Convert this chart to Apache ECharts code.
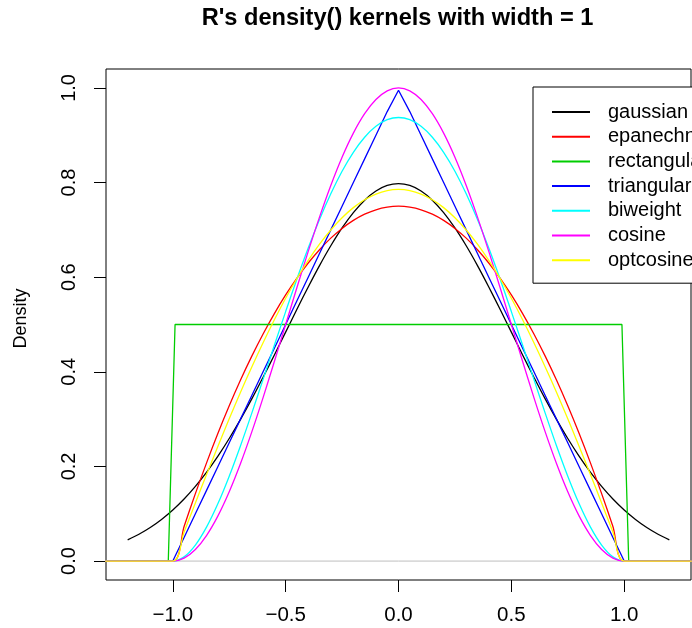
<!DOCTYPE html>
<html>
<head>
<meta charset="utf-8">
<script src="https://cdn.jsdelivr.net/npm/echarts@6/dist/echarts.min.js"></script>
<style>
html,body{margin:0;padding:0;background:#fff;}
#chart{width:692px;height:628px;}
</style>
</head>
<body>
<div id="chart"></div>
<script>
// ---- data ----
const kernelNames = ["gaussian", "epanechnikov", "rectangular", "triangular", "biweight", "cosine", "optcosine"];
const kernelColors = ["#000000", "#FF0000", "#00CD00", "#0000FF", "#00FFFF", "#FF00FF", "#FFFF00"];
const titleText = "R's density() kernels with width = 1";
const yLabel = "Density";

const xTicks = [-1, -0.5, 0, 0.5, 1];
const yTicks = [0, 0.2, 0.4, 0.6, 0.8, 1];

const xGauss = [-1.2,-1.15,-1.1,-1.05,-1,-0.95,-0.9,-0.85,-0.8,-0.75,-0.7,-0.65,-0.6,-0.55,-0.5,-0.45,-0.4,-0.35,-0.3,-0.25,-0.2,-0.15,-0.1,-0.05,0,
  0.05,0.1,0.15,0.2,0.25,0.3,0.35,0.4,0.45,0.5,0.55,0.6,0.65,0.7,0.75,0.8,0.85,0.9,0.95,1,1.05,1.1,1.15,1.2];
const yGauss = [0.0448,0.0567,0.0709,0.088,0.108,0.1312,0.1579,0.1881,0.2218,0.259,0.2995,0.3427,0.3884,0.4357,0.4839,0.5322,0.5794,0.6245,0.6664,0.7041,0.7365,0.7628,0.7821,0.7939,0.7979,
  0.7939,0.7821,0.7628,0.7365,0.7041,0.6664,0.6245,0.5794,0.5322,0.4839,0.4357,0.3884,0.3427,0.2995,0.259,0.2218,0.1881,0.1579,0.1312,0.108,0.088,0.0709,0.0567,0.0448];

const xKernel = [-1.3,-1,-0.95,-0.9,-0.85,-0.8,-0.75,-0.7,-0.65,-0.6,-0.55,-0.5,-0.45,-0.4,-0.35,-0.3,-0.25,-0.2,-0.15,-0.1,-0.05,0,
  0.05,0.1,0.15,0.2,0.25,0.3,0.35,0.4,0.45,0.5,0.55,0.6,0.65,0.7,0.75,0.8,0.85,0.9,0.95,1,1.3];
const yEpan = [0,0,0.0731,0.1425,0.2081,0.27,0.3281,0.3825,0.4331,0.48,0.5231,0.5625,0.5981,0.63,0.6581,0.6825,0.7031,0.72,0.7331,0.7425,0.7481,0.75,
  0.7481,0.7425,0.7331,0.72,0.7031,0.6825,0.6581,0.63,0.5981,0.5625,0.5231,0.48,0.4331,0.3825,0.3281,0.27,0.2081,0.1425,0.0731,0,0];
const yTri = [0,0,0.05,0.1,0.15,0.2,0.25,0.3,0.35,0.4,0.45,0.5,0.55,0.6,0.65,0.7,0.75,0.8,0.85,0.9,0.95,0.995,
  0.95,0.9,0.85,0.8,0.75,0.7,0.65,0.6,0.55,0.5,0.45,0.4,0.35,0.3,0.25,0.2,0.15,0.1,0.05,0,0];
const yBiw = [0,0,0.0089,0.0338,0.0722,0.1215,0.1794,0.2438,0.3127,0.384,0.4561,0.5273,0.5963,0.6615,0.7219,0.7763,0.824,0.864,0.8958,0.9188,0.9328,0.9375,
  0.9328,0.9188,0.8958,0.864,0.824,0.7763,0.7219,0.6615,0.5963,0.5273,0.4561,0.384,0.3127,0.2438,0.1794,0.1215,0.0722,0.0338,0.0089,0,0];
const yCos = [0,0,0.0062,0.0245,0.0545,0.0955,0.1464,0.2061,0.273,0.3455,0.4218,0.5,0.5782,0.6545,0.727,0.7939,0.8536,0.9045,0.9455,0.9755,0.9938,1,
  0.9938,0.9755,0.9455,0.9045,0.8536,0.7939,0.727,0.6545,0.5782,0.5,0.4218,0.3455,0.273,0.2061,0.1464,0.0955,0.0545,0.0245,0.0062,0,0];
const yOptcos = [0,0,0.0616,0.1229,0.1834,0.2427,0.3006,0.3566,0.4104,0.4616,0.5101,0.5554,0.5972,0.6354,0.6697,0.6998,0.7256,0.747,0.7637,0.7757,0.783,0.7854,
  0.783,0.7757,0.7637,0.747,0.7256,0.6998,0.6697,0.6354,0.5972,0.5554,0.5101,0.4616,0.4104,0.3566,0.3006,0.2427,0.1834,0.1229,0.0616,0,0];

const xRect = [-1.3,-1.02,-0.99,0.99,1.02,1.3];
const yRect = [0,0,0.5,0.5,0,0];

const xZero = [-1.4, 1.4];
const yZero = [0, 0];

// ---- chart ----
function pairs(xs, ys){ return xs.map((x,i)=>[x, ys[i]]); }
function fmt(v){ const s = Math.abs(v).toFixed(1); return v < 0 ? "\u2212" + s : s; }

const FONT = "Liberation Sans, Arial, Helvetica, sans-serif";

function lineSeries(name, color, xs, ys, smooth){
  return {
    name: name, type: 'line', data: pairs(xs, ys),
    showSymbol: false, symbol: 'none', smooth: smooth, clip: true,
    color: color,
    lineStyle: {color: color, width: 1.3},
    itemStyle: {color: color},
    emphasis: {disabled: true}, silent: true
  };
}

const series = [
  lineSeries(kernelNames[0], kernelColors[0], xGauss, yGauss, 0.3),
  Object.assign(lineSeries("zero", "#BEBEBE", xZero, yZero, false), {lineStyle:{color:"#BEBEBE", width:1}}),
  lineSeries(kernelNames[1], kernelColors[1], xKernel, yEpan, 0.3),
  lineSeries(kernelNames[2], kernelColors[2], xRect, yRect, false),
  lineSeries(kernelNames[3], kernelColors[3], xKernel, yTri, false),
  lineSeries(kernelNames[4], kernelColors[4], xKernel, yBiw, 0.3),
  lineSeries(kernelNames[5], kernelColors[5], xKernel, yCos, 0.3),
  lineSeries(kernelNames[6], kernelColors[6], xKernel, yOptcos, 0.3)
];

const chart = echarts.init(document.getElementById('chart'), null, {renderer: 'canvas'});
chart.setOption({
  animation: false,
  backgroundColor: '#ffffff',
  textStyle: {fontFamily: FONT},
  title: {
    text: titleText,
    left: 397.5, top: 6, padding: 0, textAlign: 'center',
    textStyle: {fontFamily: FONT, fontWeight: 'bold', fontSize: 23.6, color: '#000'}
  },
  grid: {
    left: 106, top: 69, width: 585, height: 511,
    show: true, borderColor: '#000', borderWidth: 1, backgroundColor: 'transparent',
    containLabel: false
  },
  xAxis: {
    type: 'value', min: -1.296, max: 1.296,
    axisLine: {show: false, onZero: false},
    splitLine: {show: false},
    axisTick: {show: true, inside: false, length: 12, customValues: xTicks, lineStyle: {color: '#000', width: 1}},
    axisLabel: {show: true, customValues: xTicks, formatter: fmt, margin: 25,
      fontFamily: FONT, fontSize: 20.5, color: '#000'}
  },
  yAxis: {
    type: 'value', min: -0.04, max: 1.04,
    axisLine: {show: false, onZero: false},
    splitLine: {show: false},
    axisTick: {show: true, inside: false, length: 12, customValues: yTicks, lineStyle: {color: '#000', width: 1}},
    axisLabel: {show: true, customValues: yTicks, formatter: fmt, rotate: 90, margin: 27,
      fontFamily: FONT, fontSize: 20, color: '#000'}
  },
  graphic: [{
    type: 'text', x: 21, y: 318.5, rotation: Math.PI / 2, silent: true,
    style: {text: yLabel, fill: '#000', font: '18px ' + FONT, align: 'center', verticalAlign: 'middle'}
  }],
  legend: {
    show: true, orient: 'vertical', left: 533, top: 87,
    padding: [15, 60, 13, 19],
    itemWidth: 38, itemHeight: 2, itemGap: 4.7, icon: 'rect',
    borderColor: '#000', borderWidth: 1, backgroundColor: '#fff',
    selectedMode: false,
    data: kernelNames,
    textStyle: {fontFamily: FONT, fontSize: 20, color: '#000', lineHeight: 20, padding: [0, 0, 0, 13]}
  },
  series: series
});
</script>
</body>
</html>
